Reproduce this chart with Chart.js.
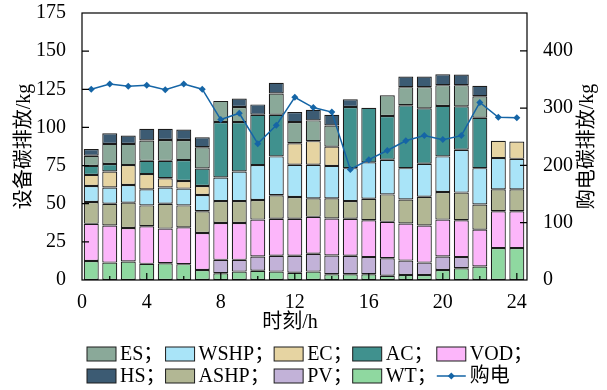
<!DOCTYPE html>
<html>
<head>
<meta charset="utf-8">
<script src="https://cdn.jsdelivr.net/npm/chart.js@4.4.1/dist/chart.umd.min.js"></script>
<style>
  html, body { margin: 0; padding: 0; background: #fff; }
  #wrap { width: 607px; height: 390px; }
</style>
</head>
<body>
<div id="wrap"><canvas id="carbonChart"></canvas></div>
<script>
const hours = [1, 2, 3, 4, 5, 6, 7, 8, 9, 10, 11, 12, 13, 14, 15, 16, 17, 18, 19, 20, 21, 22, 23, 24];

// stack pieces, bottom to top (kg)
const wt   = [12.5, 11.4, 12.1, 10.6, 11.0, 10.4, 6.6, 4.4, 5.5, 6.1, 5.5, 4.8, 5.5, 3.8, 3.8, 3.8, 2.8, 3.3, 3.3, 6.6, 7.7, 8.8, 20.9, 20.9];
const pv   = [null, null, null, null, null, null, null, 8.8, 7.7, 9.3, 10.4, 11.1, 11.7, 12.3, 12.1, 11.2, 11.5, 9.4, 8.1, 8.8, 7.3, null, null, null];
const vod  = [24.3, 24.3, 22.0, 24.6, 22.7, 24.1, 24.2, 24.2, 24.2, 24.2, 24.2, 24.2, 24.2, 24.2, 24.2, 24.2, 23.8, 24.3, 24.3, 24.2, 24.2, 24.2, 24.2, 24.2];
const ashp = [14.3, 14.3, 16.6, 13.7, 16.3, 14.4, 14.3, 14.3, 14.3, 12.8, 15.4, 14.3, 12.1, 13.2, 11.6, 14.1, 18.0, 15.8, 18.9, 18.1, 18.1, 16.5, 14.3, 14.3];
const wshp = [10.5, 10.6, 11.6, 10.5, 10.6, 11.0, 10.6, 15.5, 19.4, 22.9, 25.5, 21.1, 22.0, 21.3, 21.6, 23.8, 22.7, 20.5, 21.6, 23.3, 28.1, 23.8, 20.5, 20.0];
const ec   = [7.3, 10.5, 13.0, 10.0, 6.1, 5.0, 5.9, null, null, null, null, 14.1, 15.5, 12.6, null, null, null, null, null, null, null, null, 11.4, 11.4];
const ac   = [5.9, 4.9, null, 8.7, 11.4, 13.7, 11.5, 36.3, 32.4, 33.0, 27.3, null, null, null, 40.1, 35.8, 28.7, 41.2, 36.3, 33.1, 28.4, 33.0, null, null];
const es   = [6.6, 13.2, 13.9, 13.3, 13.7, 13.2, 13.9, 13.9, 9.9, null, 13.9, 13.9, 13.6, 13.9, null, null, 13.6, 11.9, 13.9, 13.6, 13.9, 14.1, null, null];
const hs   = [4.4, 7.0, 5.5, 7.7, 7.3, 6.8, 6.6, null, 5.5, 6.8, 7.1, 6.6, 7.0, 7.0, 5.0, null, null, 7.0, 7.0, 7.2, 7.0, 6.9, null, null];

// purchased electricity emission (right axis, kg)
const grid = [333, 342, 338, 340, 332, 342, 333, 280, 291, 238, 270, 319, 301, 293, 193, 210, 226, 243, 252, 245, 252, 310, 284, 283];

const xTicks = [0.5, 2, 4, 6, 8, 10, 12, 14, 16, 18, 20, 22, 24];
const leftTicks = [0, 25, 50, 75, 100, 125, 150, 175];
const rightTicks = [0, 100, 200, 300, 400];

const legendOrder = ['ES', 'WSHP', 'EC', 'AC', 'VOD', 'HS', 'ASHP', 'PV', 'WT', '购电'];

const serif = '"Liberation Serif", "Noto Sans CJK SC", serif';
const lineBlue = '#1565a6';

function barSet(label, data, color) {
    return {
        type: 'bar', label: label, data: data,
        backgroundColor: color, borderColor: '#1c1c1c', borderWidth: 1.2,
        borderSkipped: false,
        barPercentage: 0.9, categoryPercentage: 0.9,
        xAxisID: 'x', yAxisID: 'y'
    };
}

const frameAndLegend = {
    id: 'frameAndLegend',
    afterDraw(chart) {
        const c = chart.ctx;
        const a = chart.chartArea;
        const sx = chart.scales.x, sy = chart.scales.y, sy2 = chart.scales.y2;
        c.save();
        c.strokeStyle = '#000';
        c.lineWidth = 1.2;
        c.strokeRect(a.left, a.top, a.right - a.left, a.bottom - a.top);
        c.beginPath();
        for (let h = 2; h <= 24; h += 2) {
            const px = sx.getPixelForValue(h);
            const len = h % 4 === 0 ? 7 : 4;
            c.moveTo(px, a.bottom);
            c.lineTo(px, a.bottom - len);
        }
        leftTicks.forEach(v => {
            if (v === 0 || v === 175) return;
            const py = sy.getPixelForValue(v);
            c.moveTo(a.left, py);
            c.lineTo(a.left + 7, py);
        });
        rightTicks.forEach(v => {
            if (v === 0) return;
            const py = sy2.getPixelForValue(v);
            c.moveTo(a.right, py);
            c.lineTo(a.right - 7, py);
        });
        c.stroke();

        c.font = '20px ' + serif;
        c.fillStyle = '#000';
        c.textAlign = 'center';
        c.textBaseline = 'middle';
        // x axis title
        c.fillText('时刻/h', 290, 323);
        // right axis title, reading bottom to top
        c.translate(588, (a.top + a.bottom) / 2);
        c.rotate(-Math.PI / 2);
        c.fillText('购电碳排放/kg', 0, 0);
        c.setTransform(1, 0, 0, 1, 0, 0);

        // legend in a 5 column grid
        const items = legendOrder.map(name => chart.data.datasets.find(d => d.label === name));
        const boxW = 29, boxH = 14, gap = 4;
        c.textAlign = 'left';
        const text = (d, i) => i === items.length - 1 ? d.label : d.label + '；';
        const colW = [];
        for (let col = 0; col < 5; col++) {
            let w = 0;
            [col, col + 5].forEach(i => {
                w = Math.max(w, boxW + gap + c.measureText(text(items[i], i)).width);
            });
            colW.push(w);
        }
        const rowsY = [354, 376];
        items.forEach((d, i) => {
            const row = Math.floor(i / 5), col = i % 5;
            let x = 87;
            for (let k = 0; k < col; k++) x += colW[k];
            const y = rowsY[row];
            if (d.type === 'line') {
                c.strokeStyle = lineBlue;
                c.lineWidth = 1.5;
                c.beginPath();
                c.moveTo(x, y);
                c.lineTo(x + boxW, y);
                c.stroke();
                c.fillStyle = lineBlue;
                c.beginPath();
                c.moveTo(x + boxW / 2, y - 3.5);
                c.lineTo(x + boxW / 2 + 3.5, y);
                c.lineTo(x + boxW / 2, y + 3.5);
                c.lineTo(x + boxW / 2 - 3.5, y);
                c.closePath();
                c.fill();
            } else {
                c.fillStyle = d.backgroundColor;
                c.fillRect(x, y - boxH / 2, boxW, boxH);
                c.strokeStyle = '#1c1c1c';
                c.lineWidth = 1;
                c.strokeRect(x, y - boxH / 2, boxW, boxH);
            }
            c.fillStyle = '#000';
            c.fillText(text(d, i), x + boxW + gap, y + 1);
        });
        c.restore();
    }
};

const ctx = document.getElementById('carbonChart').getContext('2d');
const carbonChart = new Chart(ctx, {
    data: {
        labels: hours,
        datasets: [
            {
                type: 'line', label: '购电', data: grid, order: -1,
                borderColor: lineBlue, backgroundColor: lineBlue, borderWidth: 1.5,
                pointStyle: 'rectRot', pointRadius: 3.5, pointBorderWidth: 0,
                xAxisID: 'x', yAxisID: 'y2'
            },
            barSet('WT', wt, '#8fd8a0'),
            barSet('PV', pv, '#c2b2d8'),
            barSet('VOD', vod, '#fcb6fa'),
            barSet('ASHP', ashp, '#b2b794'),
            barSet('WSHP', wshp, '#a9e4f8'),
            barSet('EC', ec, '#e6d4a2'),
            barSet('AC', ac, '#40918e'),
            barSet('ES', es, '#8aa999'),
            barSet('HS', hs, '#3c5b73')
        ]
    },
    options: {
        responsive: true,
        maintainAspectRatio: false,
        animation: false,
        layout: { padding: { top: 13, bottom: 55, left: 0, right: 0 } },
        plugins: {
            legend: { display: false },
            tooltip: { enabled: false }
        },
        scales: {
            x: {
                type: 'linear', min: 0.5, max: 24.55, stacked: true, offset: false,
                afterBuildTicks: s => { s.ticks = xTicks.map(v => ({ value: v })); },
                afterFit: s => { s.height = 55; s.paddingLeft = 0; s.paddingRight = 0; },
                grid: { display: false },
                border: { display: false },
                ticks: {
                    autoSkip: false, maxRotation: 0, padding: 3, color: '#000',
                    font: { family: serif, size: 20 },
                    callback: v => v === 0.5 ? '0' : (v % 4 === 0 ? String(v) : '')
                }
            },
            y: {
                position: 'left', stacked: true, min: 0, max: 175,
                afterBuildTicks: s => { s.ticks = leftTicks.map(v => ({ value: v })); },
                afterFit: s => { s.width = 82; s.paddingTop = 0; s.paddingBottom = 0; },
                grid: { display: false },
                border: { display: false },
                ticks: { padding: 8, color: '#000', font: { family: serif, size: 20 } },
                title: {
                    display: true, text: '设备碳排放/kg', color: '#000',
                    font: { family: serif, size: 20 }, padding: { top: 13, bottom: 0 }
                }
            },
            y2: {
                position: 'right', min: 0, max: 466,
                afterBuildTicks: s => { s.ticks = rightTicks.map(v => ({ value: v })); },
                afterFit: s => { s.width = 80; s.paddingTop = 0; s.paddingBottom = 0; },
                grid: { display: false },
                border: { display: false },
                ticks: { padding: 8, color: '#000', font: { family: serif, size: 20 } }
            }
        }
    },
    plugins: [frameAndLegend]
});
</script>
</body>
</html>
